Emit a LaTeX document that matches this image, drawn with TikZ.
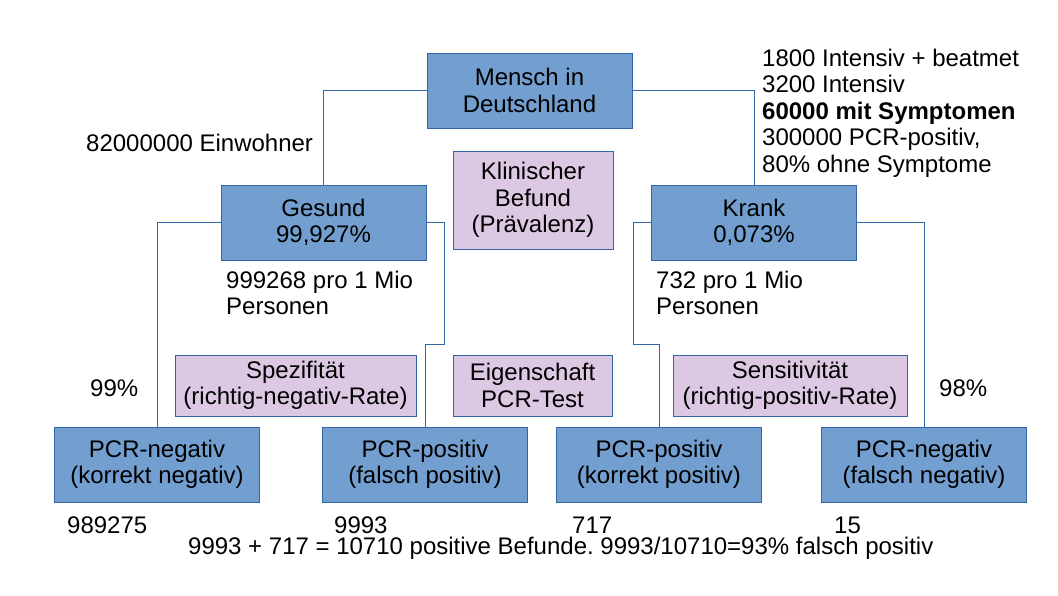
\documentclass[tikz,border=0pt]{standalone}
\usepackage{fontspec}
\setmainfont{Liberation Sans}
\frenchspacing
\definecolor{boxblue}{RGB}{114,159,207}
\definecolor{edgeblue}{RGB}{52,101,164}
\definecolor{lilac}{RGB}{221,200,227}
\begin{document}
\begin{tikzpicture}[x=1pt,y=-1pt,
  font=\fontsize{24}{26.5}\selectfont,
  bluebox/.style={draw=edgeblue,line width=1pt,fill=boxblue,align=center,inner sep=0pt,minimum width=205pt,minimum height=75pt},
  pinkbox/.style={draw=edgeblue,line width=1pt,fill=lilac,align=center,inner sep=0pt},
  lbl/.style={inner sep=0pt,align=left,anchor=west},
  conn/.style={draw=edgeblue,line width=1pt}]
\useasboundingbox (0,0) rectangle (1058,595);
% main boxes
\node[bluebox] (mensch) at (529.5,90.5) {Mensch in\\Deutschland};
\node[bluebox] (gesund) at (323.5,222.5) {Gesund\\99,927\%};
\node[bluebox] (krank) at (754,222.5) {Krank\\0,073\%};
\node[bluebox] (tn) at (157,464.5) {PCR-negativ\\(korrekt negativ)};
\node[bluebox] (fp) at (425,464.5) {PCR-positiv\\(falsch positiv)};
\node[bluebox] (tp) at (659,464.5) {PCR-positiv\\(korrekt positiv)};
\node[bluebox] (fn) at (924,464.5) {PCR-negativ\\(falsch negativ)};
% info boxes
\node[pinkbox,minimum width=160pt,minimum height=98pt] (klin) at (533,200) {Klinischer\\Befund\\(Prävalenz)};
\node[pinkbox,minimum width=159pt,minimum height=61pt] (eig) at (532.5,385.5) {Eigenschaft\\PCR-Test};
\node[pinkbox,minimum width=241pt,minimum height=61pt] (spez) at (295.5,385.5) {Spezifität\\(richtig-negativ-Rate)};
\node[pinkbox,minimum width=234pt,minimum height=61pt] (sens) at (790,385.5) {Sensitivität\\(richtig-positiv-Rate)};
% connectors
\coordinate (g1) at (444,344);
\coordinate (k1) at (633,344);
\draw[conn] (mensch.west) -| (gesund.north);
\draw[conn] (mensch.east) -| (krank.north);
\draw[conn] (gesund.west) -| (tn.north);
\draw[conn] (gesund.east) -| (g1) -| (fp.north);
\draw[conn] (krank.west) -| (k1) -| (tp.north);
\draw[conn] (krank.east) -| (fn.north);
% labels
\node[lbl] (einw) at (86,143) {82000000 Einwohner};
\node[lbl] (stats) at (762,113) {1800 Intensiv + beatmet\\3200 Intensiv\\\textbf{60000 mit Symptomen}\\300000 PCR-positiv,\\80\% ohne Symptome};
\node[lbl] (gpers) at (226,293) {999268 pro 1 Mio\\Personen};
\node[lbl] (kpers) at (656,293) {732 pro 1 Mio\\Personen};
\node[lbl] (p99) at (90,388) {99\%};
\node[lbl] (p98) at (939,388) {98\%};
\node[lbl] (n1) at (67,525) {989275};
\node[lbl] (n2) at (334,525) {9993};
\node[lbl] (n3) at (572,525) {717};
\node[lbl] (n4) at (834,525) {15};
\node[lbl] (sum) at (188,548) {9993 + 717 = 10710 positive Befunde. 9993/10710=93\% falsch positiv};
\end{tikzpicture}
\end{document}
